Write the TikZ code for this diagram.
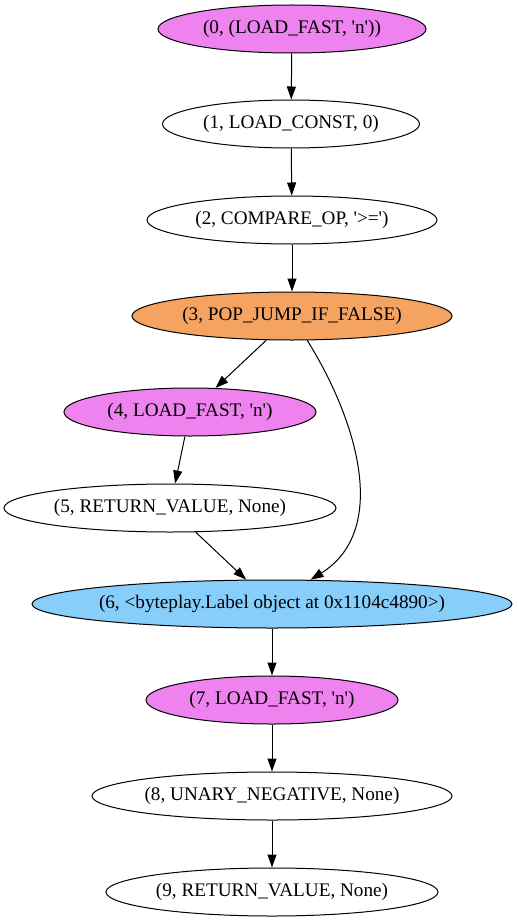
\documentclass[tikz,border=0pt]{standalone}
\usepackage{fontspec}
\setmainfont{Liberation Serif}
\usetikzlibrary{shapes.geometric,arrows.meta}
\definecolor{violetfill}{HTML}{EE82EE}
\definecolor{sandyfill}{HTML}{F4A460}
\definecolor{skyfill}{HTML}{87CEFA}
\newcommand{\q}{\textquotesingle}
\begin{document}
\begin{tikzpicture}[x=1pt, y=-1pt, font=\fontsize{19.2}{22}\selectfont,
    op/.style={draw, ellipse, line width=1pt, inner ysep=0pt, inner xsep=-12pt, minimum height=48pt},
    edge/.style={-{Triangle[length=13pt,width=9pt]}, line width=1pt}]
    \useasboundingbox (0,0) rectangle (517,923);
    \node[op, fill=violetfill, minimum width=268pt] (n0) at (292,29) {(0, (LOAD\_FAST, \q n\q))};
    \node[op, minimum width=257pt] (n1) at (291,124) {(1, LOAD\_CONST, 0)};
    \node[op, minimum width=290pt] (n2) at (292,220) {(2, COMPARE\_OP, \q>=\q)};
    \node[op, fill=sandyfill, minimum width=320pt] (n3) at (292,316) {(3, POP\_JUMP\_IF\_FALSE)};
    \node[op, fill=violetfill, minimum width=252pt] (n4) at (190,412) {(4, LOAD\_FAST, \q n\q)};
    \node[op, minimum width=332pt] (n5) at (170,508) {(5, RETURN\_VALUE, None)};
    \node[op, fill=skyfill, minimum width=480pt] (n6) at (272,604) {(6, <byteplay.Label object at 0x1104c4890>)};
    \node[op, fill=violetfill, minimum width=252pt] (n7) at (272,700) {(7, LOAD\_FAST, \q n\q)};
    \node[op, minimum width=360pt] (n8) at (272,796) {(8, UNARY\_NEGATIVE, None)};
    \node[op, minimum width=332pt] (n9) at (272,892) {(9, RETURN\_VALUE, None)};
    \foreach \a/\b in {n0/n1,n1/n2,n2/n3,n3/n4,n4/n5,n5/n6,n6/n7,n7/n8,n8/n9}
        \draw[edge] (\a) -- (\b);
    \draw[edge] (n3) .. controls (357,420) and (390,530) .. (n6);
\end{tikzpicture}
\end{document}
